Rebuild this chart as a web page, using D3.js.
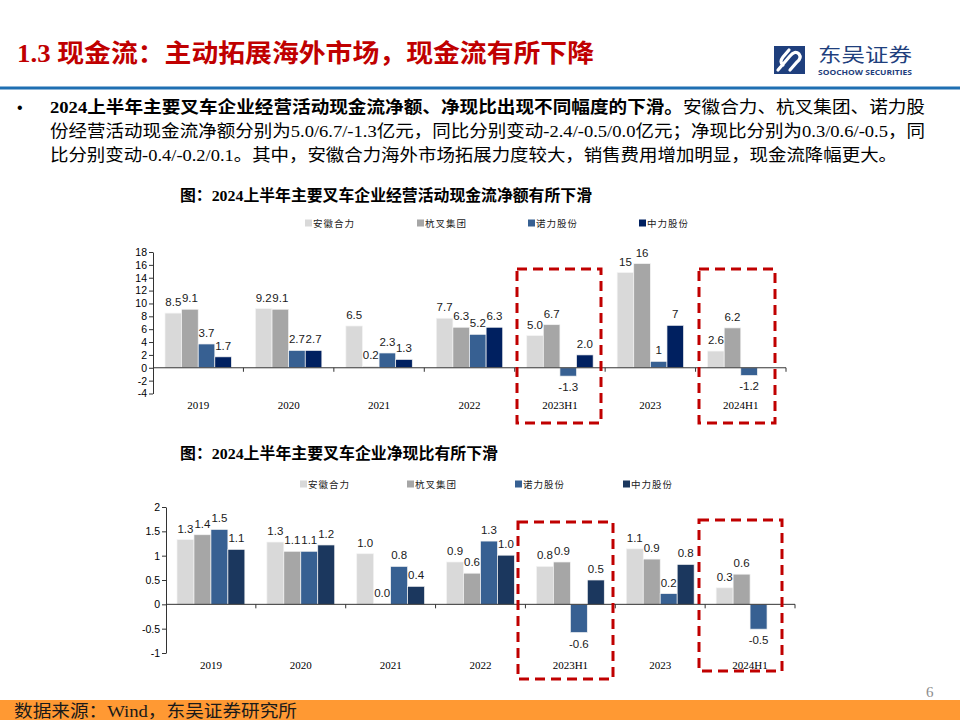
<!DOCTYPE html>
<html><head><meta charset="utf-8">
<script src="https://cdn.jsdelivr.net/npm/d3@7"></script>
<style>
html,body{margin:0;padding:0;background:#fff;}
svg{display:block;}
</style></head>
<body>
<svg id="c" width="960" height="720"></svg>
<script>
// ---------------- data ----------------
const categories = ["2019","2020","2021","2022","2023H1","2023","2024H1"];
const seriesNames = ["安徽合力","杭叉集团","诺力股份","中力股份"];

// 经营活动现金流净额（亿元）
const cashAnhui   = [8.5, 9.2, 6.5, 7.7, 5.0, 14.8, 2.6];
const cashHangcha = [9.1, 9.1, 0.2, 6.3, 6.7, 16.2, 6.2];
const cashNoli    = [3.7, 2.7, 2.3, 5.2, -1.3, 1.0, -1.2];
const cashZhongli = [1.7, 2.7, 1.3, 6.3, 2.0, 6.6, null];
const cashLabelDecimals = [1, 1, 1, 1, 1, 0, 1];
const cashTicks = [-4,-2,0,2,4,6,8,10,12,14,16,18];

// 净现比
const ratioAnhui   = [1.33, 1.28, 1.04, 0.87, 0.78, 1.14, 0.34];
const ratioHangcha = [1.43, 1.09, 0.01, 0.64, 0.87, 0.93, 0.62];
const ratioNoli    = [1.54, 1.09, 0.78, 1.30, -0.58, 0.22, -0.51];
const ratioZhongli = [1.13, 1.22, 0.37, 1.01, 0.50, 0.82, null];
const ratioTicks = [-1,-0.5,0,0.5,1,1.5,2];

const colorsTop = ["#d9d9d9","#a6a6a6","#376092","#002060"];
const colorsBottom = ["#d9d9d9","#a6a6a6","#376092","#1b375e"];

// ---------------- page ----------------
const svg = d3.select("#c");
const SERIF = "'Liberation Serif','Noto Sans CJK SC',serif";
const SANS = "'Liberation Sans',Arial,sans-serif";
const fmt = (v,d)=>d3.format("."+d+"f")(v).replace("\u2212","-");

svg.append("rect").attr("x",0).attr("y",0).attr("width",960).attr("height",720).attr("fill","#fff");

// heading
svg.append("text").attr("x",17).attr("y",62)
  .attr("font-family",SERIF).attr("font-weight","bold").attr("font-size",25)
  .attr("fill","#c00000").attr("textLength",577).attr("lengthAdjust","spacingAndGlyphs")
  .text("1.3 现金流：主动拓展海外市场，现金流有所下降");

svg.append("rect").attr("x",0).attr("y",86.5).attr("width",960).attr("height",3).attr("fill","#1f6fb2");

// logo
const logo = svg.append("g");
logo.append("rect").attr("x",774).attr("y",46).attr("width",31).attr("height",28).attr("fill","#1f3f7d");
logo.append("path").attr("d","M778,70 L790,56 Q795,50 799,54 Q802,58 797,62 L790,70 M789,50 L783,57 Q779,62 783,65")
  .attr("fill","none").attr("stroke","#fff").attr("stroke-width",3.2).attr("stroke-linecap","round");
logo.append("text").attr("x",818).attr("y",62).attr("font-family","'Noto Sans CJK SC',sans-serif")
  .attr("font-size",19).attr("fill","#1f3f7d").attr("textLength",94).attr("lengthAdjust","spacingAndGlyphs").text("东吴证券");
logo.append("text").attr("x",818).attr("y",75).attr("font-family","'Open Sans',"+SANS).attr("font-weight","bold")
  .attr("font-size",6.5).attr("fill","#1f3f7d").attr("textLength",94).attr("lengthAdjust","spacingAndGlyphs").text("SOOCHOW SECURITIES");

// bullet text
svg.append("text").attr("x",17).attr("y",113).attr("font-family",SANS).attr("font-size",16).attr("fill","#000").text("•");
const l1 = svg.append("text").attr("x",50).attr("y",113).attr("font-family",SERIF).attr("font-size",17)
  .attr("fill","#000").attr("textLength",875).attr("lengthAdjust","spacingAndGlyphs");
l1.append("tspan").attr("font-weight","bold").text("2024上半年主要叉车企业经营活动现金流净额、净现比出现不同幅度的下滑。");
l1.append("tspan").text("安徽合力、杭叉集团、诺力股");
svg.append("text").attr("x",50).attr("y",137).attr("font-family",SERIF).attr("font-size",17)
  .attr("fill","#000").attr("textLength",875).attr("lengthAdjust","spacingAndGlyphs")
  .text("份经营活动现金流净额分别为5.0/6.7/-1.3亿元，同比分别变动-2.4/-0.5/0.0亿元；净现比分别为0.3/0.6/-0.5，同");
svg.append("text").attr("x",50).attr("y",161).attr("font-family",SERIF).attr("font-size",17)
  .attr("fill","#000").attr("textLength",847).attr("lengthAdjust","spacingAndGlyphs")
  .text("比分别变动-0.4/-0.2/0.1。其中，安徽合力海外市场拓展力度较大，销售费用增加明显，现金流降幅更大。");

// footer
svg.append("rect").attr("x",0).attr("y",700).attr("width",960).attr("height",20).attr("fill","#ff9933");
svg.append("text").attr("x",14).attr("y",717).attr("font-family",SERIF).attr("font-size",17).attr("fill","#1a1a1a")
  .attr("textLength",283).attr("lengthAdjust","spacingAndGlyphs").text("数据来源：Wind，东吴证券研究所");
svg.append("text").attr("x",926).attr("y",697).attr("font-family",SERIF).attr("font-size",15).attr("fill","#8c8c8c").text("6");

// ---------------- chart builder ----------------
function drawChart(cfg){
  const g = svg.append("g");
  // title
  g.append("text").attr("x",180).attr("y",cfg.titleY).attr("font-family",SERIF).attr("font-weight","bold")
    .attr("font-size",15.5).attr("fill","#000").attr("textLength",cfg.titleW).attr("lengthAdjust","spacingAndGlyphs")
    .text(cfg.title);
  // legend
  seriesNames.forEach((n,i)=>{
    const lx = cfg.legendX[i];
    g.append("rect").attr("x",lx).attr("y",cfg.legendY-3.5).attr("width",7).attr("height",7).attr("fill",cfg.colors[i]);
    g.append("text").attr("x",lx+8).attr("y",cfg.legendY+3.5).attr("font-family",SERIF).attr("font-size",9.5)
      .attr("letter-spacing",1).attr("fill","#222").text(n);
  });

  const x0 = d3.scaleBand().domain(categories).range([cfg.left,cfg.right]).padding(0);
  const x1 = d3.scaleBand().domain(seriesNames).range([cfg.groupPad, x0.bandwidth()-cfg.groupPad]).padding(0);
  const y = d3.scaleLinear().domain(cfg.domain).range([cfg.bottom,cfg.top]);

  // bars
  cfg.series.forEach((vals,si)=>{
    vals.forEach((v,ci)=>{
      if(v===null) return;
      const bx = x0(categories[ci]) + x1(seriesNames[si]);
      const y0 = y(0), yv = y(v);
      g.append("rect").attr("x",bx).attr("y",Math.min(y0,yv)).attr("width",x1.bandwidth())
        .attr("height",Math.abs(yv-y0)).attr("fill",cfg.colors[si])
        .attr("stroke","#f4f4f4").attr("stroke-width",0.7);
    });
  });

  // y axis
  const ya = d3.axisLeft(y).tickValues(cfg.ticks).tickSize(4).tickSizeOuter(0).tickFormat(d=>String(d));
  const yg = g.append("g").attr("transform",`translate(${cfg.left},0)`).call(ya);
  yg.select(".domain").attr("stroke","#333");
  yg.selectAll(".tick line").attr("stroke","#333");
  yg.selectAll(".tick text").attr("font-family",SANS).attr("font-size",10.5).attr("fill","#000").attr("x",-6);

  // x axis at zero
  const zy = y(0);
  g.append("line").attr("x1",cfg.left).attr("x2",cfg.right).attr("y1",zy).attr("y2",zy).attr("stroke","#333").attr("stroke-width",1);
  categories.forEach((c,i)=>{
    const tx = x0(c)+x0.bandwidth();
    g.append("line").attr("x1",tx).attr("x2",tx).attr("y1",zy).attr("y2",zy+4).attr("stroke","#333");
    g.append("text").attr("x",x0(c)+x0.bandwidth()/2).attr("y",cfg.catY).attr("text-anchor","middle")
      .attr("font-family",SERIF).attr("font-size",11).attr("fill","#000").text(c);
  });

  // value labels
  cfg.series.forEach((vals,si)=>{
    vals.forEach((v,ci)=>{
      if(v===null) return;
      const cx = x0(categories[ci]) + x1(seriesNames[si]) + x1.bandwidth()/2;
      const ly = v>=0 ? y(v)-7 : y(v)+15;
      g.append("text").attr("x",cx).attr("y",ly).attr("text-anchor","middle")
        .attr("font-family",SANS).attr("font-size",11.5).attr("fill","#1a1a1a")
        .text(fmt(v,cfg.decimals[ci]));
    });
  });

  // highlight boxes
  cfg.boxes.forEach(b=>{
    g.append("rect").attr("x",b[0]).attr("y",b[1]).attr("width",b[2]-b[0]).attr("height",b[3]-b[1])
      .attr("fill","none").attr("stroke","#c00000").attr("stroke-width",3).attr("stroke-dasharray","10,6");
  });
}

drawChart({
  title:"图：2024上半年主要叉车企业经营活动现金流净额有所下滑", titleY:201, titleW:412,
  legendX:[305,417,528,639], legendY:223,
  left:153, right:786, top:252, bottom:393.5, domain:[-4,18], ticks:cashTicks, groupPad:12,
  catY:409, colors:colorsTop,
  series:[cashAnhui,cashHangcha,cashNoli,cashZhongli],
  decimals:cashLabelDecimals,
  boxes:[[517,269,601,423],[699,269,775,423]]
});

drawChart({
  title:"图：2024上半年主要叉车企业净现比有所下滑", titleY:459, titleW:318,
  legendX:[300,407,515,623], legendY:484,
  left:166, right:795, top:507, bottom:653, domain:[-1,2], ticks:ratioTicks, groupPad:11,
  catY:669, colors:colorsBottom,
  series:[ratioAnhui,ratioHangcha,ratioNoli,ratioZhongli],
  decimals:[1,1,1,1,1,1,1],
  boxes:[[518,522,613,679],[699,520,782,671]]
});
</script>
</body></html>
